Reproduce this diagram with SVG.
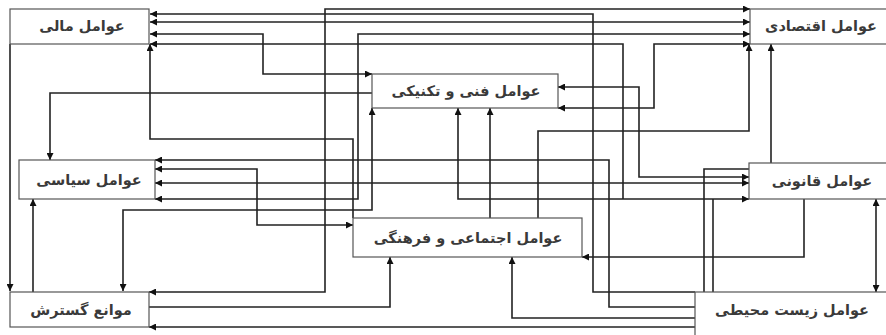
<svg xmlns="http://www.w3.org/2000/svg" width="886" height="335" viewBox="0 0 886 335">
<style>
.bg{fill:#fff}
.box{fill:#fff;stroke:#555;stroke-width:1.2}
.c{fill:none;stroke:#222;stroke-width:1.6}
.a{marker-end:url(#ah)}
.b{marker-start:url(#ah);marker-end:url(#ah)}
.s{marker-start:url(#ah)}
.t{font-family:"DejaVu Sans",sans-serif;font-size:14.5px;font-weight:bold;fill:#3a3a3a;text-anchor:middle;direction:rtl}
</style>
<defs>
<marker id="ah" viewBox="0 0 10 10" refX="10" refY="5" markerWidth="9" markerHeight="7" markerUnits="userSpaceOnUse" orient="auto-start-reverse">
<path d="M0,0 L10,5 L0,10 z" fill="#111"/>
</marker>
</defs>
<rect class="bg" x="0" y="0" width="886" height="335"/>
<g id="connectors">
<path class="c a" d="M10,44 V291"/>
<path class="c a" d="M695,292 H593 V14 H150"/>
<path class="c b" d="M150,22 H750"/>
<path class="c b" d="M150,34 H263 V74 H372"/>
<path class="c b" d="M155,199 H358 V34 H750"/>
<path class="c s" d="M150,44 H623 V199"/>
<path class="c b" d="M558,108 H654 V44 H750"/>
<path class="c b" d="M149,292 H325 V9 H750"/>
<path class="c a" d="M353,218 V139 H150 V44"/>
<path class="c a" d="M372,93 H50 V160"/>
<path class="c b" d="M123,291 V210 H372 V108"/>
<path class="c b" d="M458,108 V199 H749"/>
<path class="c a" d="M490,218 V108"/>
<path class="c a" d="M538,218 V131 H749 V44"/>
<path class="c a" d="M771,163 V44"/>
<path class="c b" d="M558,87 H639 V177 H749"/>
<path class="c s" d="M155,160 H609 V307 H695"/>
<path class="c b" d="M155,169 H257 V225 H353"/>
<path class="c b" d="M155,183 H749"/>
<path class="c a" d="M33,292 V199"/>
<path class="c a" d="M149,307 H390 V257"/>
<path class="c s" d="M149,327 H695"/>
<path class="c s" d="M512,257 V318 H695"/>
<path class="c a" d="M804,199 V257 H582"/>
<path class="c b" d="M876,199 V292"/>
<path class="c" d="M749,169 H704 V292"/>
<path class="c" d="M713,199 V292"/>
</g>
<g id="mali"><rect class="box" x="10" y="9" width="139" height="35"/><text class="t" x="82" y="31">عوامل مالی</text></g>
<g id="eghtesadi"><rect class="box" x="750" y="9" width="140" height="35"/><text class="t" x="821" y="31">عوامل اقتصادی</text></g>
<g id="fanni"><rect class="box" x="372" y="74" width="186" height="34"/><text class="t" x="466" y="96">عوامل فنی و تکنیکی</text></g>
<g id="siasi"><rect class="box" x="19" y="160" width="136" height="39"/><text class="t" x="89" y="185">عوامل سیاسی</text></g>
<g id="ghanooni"><rect class="box" x="749" y="163" width="141" height="36"/><text class="t" x="822" y="186">عوامل قانونی</text></g>
<g id="ejtemaei"><rect class="box" x="353" y="218" width="229" height="39"/><text class="t" x="468" y="243">عوامل اجتماعی و فرهنگی</text></g>
<g id="mavane"><rect class="box" x="10" y="292" width="139" height="35"/><text class="t" x="81" y="315">موانع گسترش</text></g>
<g id="zist"><rect class="box" x="695" y="292" width="195" height="50"/><text class="t" x="792" y="315">عوامل زیست محیطی</text></g>
</svg>
